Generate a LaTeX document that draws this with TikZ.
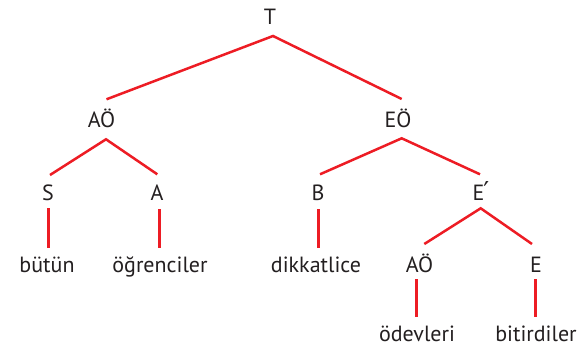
\documentclass[tikz,border=0pt]{standalone}
\usepackage{fontspec}
\setmainfont{PT Sans}
\newfontfamily\primefont{DejaVu Sans}
\definecolor{treered}{RGB}{237,28,36}
\definecolor{treetext}{RGB}{35,31,32}
\begin{document}
\begin{tikzpicture}[x=1pt,y=-1pt,
  lbl/.style={anchor=base,inner sep=0pt,text=treetext,font=\fontsize{22}{26}\selectfont},
  branch/.style={draw=treered,line width=2.5pt,line join=miter}]
\useasboundingbox (0,0) rectangle (588,348);
% labels
\node[lbl] (T) at (270,24.3) {T};
\node[lbl] (AO1) at (101.5,127) {AÖ};
\node[lbl] (EO) at (398,127) {EÖ};
\node[lbl] (S) at (48,200.7) {S};
\node[lbl] (A) at (157,200.7) {A};
\node[lbl] (B) at (318,200.7) {B};
\node[lbl] (Ep) at (481,200.7) {E\kern-1pt{\primefont\fontsize{26}{30}\selectfont ′}};
\node[lbl] (butun) at (47,272.7) {bütün};
\node[lbl] (ogr) at (160,272.7) {öğrenciler};
\node[lbl] (dik) at (316,272.7) {dikkatlice};
\node[lbl] (AO2) at (419.5,272.7) {AÖ};
\node[lbl] (E) at (536,272.7) {E};
\node[lbl] (odev) at (417,341.7) {ödevleri};
\node[lbl] (bitir) at (536,341.7) {bitirdiler};
% connector ends
\coordinate (T-b) at (273,36);
\coordinate (AO1-t) at (106.5,99.3);
\coordinate (EO-t) at (401.7,99);
\coordinate (AO1-b) at (106,139.3);
\coordinate (S-t) at (50,175);
\coordinate (A-t) at (157.3,174.3);
\coordinate (EO-b) at (401.7,138.3);
\coordinate (B-t) at (320,174.3);
\coordinate (Ep-t) at (480,174.3);
\coordinate (Ep-b) at (480.7,208.3);
\coordinate (AO2-t) at (424.3,244);
\coordinate (E-t) at (532,244);
\coordinate (S-b) at (48.5,208.3);
\coordinate (butun-t) at (48.5,247.5);
\coordinate (A-b) at (159.3,209.3);
\coordinate (ogr-t) at (159.3,248.3);
\coordinate (B-b) at (318.3,209.3);
\coordinate (dik-t) at (318.3,248.3);
\coordinate (AO2-b) at (416.7,279.3);
\coordinate (odev-t) at (416.7,316.7);
\coordinate (E-b) at (535.7,279.3);
\coordinate (bitir-t) at (535.7,316.7);
% branches
\draw[branch] (AO1-t) -- (T-b) -- (EO-t);
\draw[branch] (S-t) -- (AO1-b) -- (A-t);
\draw[branch] (B-t) -- (EO-b) -- (Ep-t);
\draw[branch] (AO2-t) -- (Ep-b) -- (E-t);
\draw[branch] (S-b) -- (butun-t);
\draw[branch] (A-b) -- (ogr-t);
\draw[branch] (B-b) -- (dik-t);
\draw[branch] (AO2-b) -- (odev-t);
\draw[branch] (E-b) -- (bitir-t);
\end{tikzpicture}
\end{document}
